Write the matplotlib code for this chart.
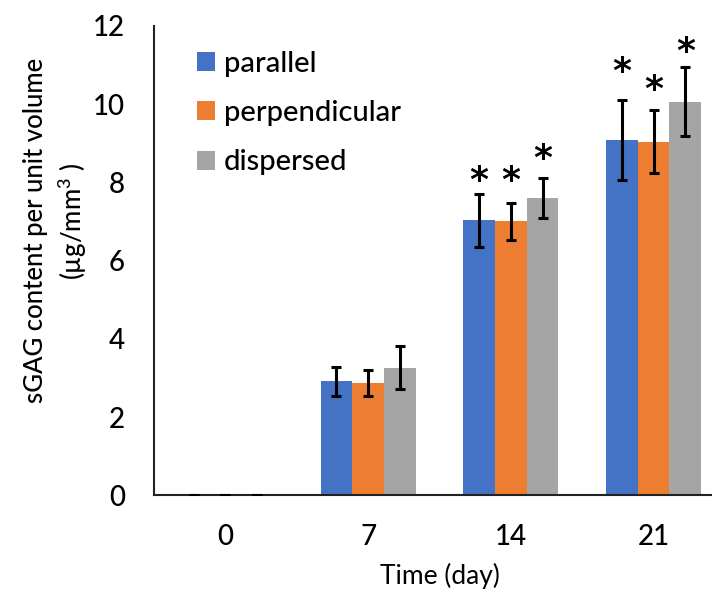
import numpy as np
import matplotlib
matplotlib.use('Agg')
import matplotlib.pyplot as plt

plt.rcParams['font.family'] = ['Lato', 'DejaVu Sans']
plt.rcParams['font.weight'] = 'medium'
plt.rcParams['mathtext.fontset'] = 'custom'
plt.rcParams['mathtext.rm'] = 'Lato:medium'

days = ['0', '7', '14', '21']
groups = ['parallel', 'perpendicular', 'dispersed']
colors = ['#4472C4', '#ED7D31', '#A5A5A5']

parallel = [0.0, 2.92, 7.03, 9.09]
perpendicular = [0.0, 2.88, 7.01, 9.04]
dispersed = [0.0, 3.26, 7.61, 10.06]

parallel_err = [0.02, 0.37, 0.68, 1.03]
perpendicular_err = [0.02, 0.33, 0.47, 0.81]
dispersed_err = [0.02, 0.55, 0.51, 0.88]

# heights of the significance stars (None = no star)
parallel_star = [None, None, 8.04, 10.82]
perpendicular_star = [None, None, 8.04, 10.37]
dispersed_star = [None, None, 8.60, 11.33]

means = [parallel, perpendicular, dispersed]
errs = [parallel_err, perpendicular_err, dispersed_err]
stars = [parallel_star, perpendicular_star, dispersed_star]

fig = plt.figure(figsize=(7.12, 5.95), dpi=100)
ax = fig.add_axes([154/712., 99.7/595., 571/712., 469.3/595.])

x = np.arange(len(days))
w = 0.222
for i, (m, e, s) in enumerate(zip(means, errs, stars)):
    pos = x + (i - 1) * w
    ax.bar(pos, m, width=w, color=colors[i], label=groups[i], edgecolor='none', zorder=2)
    ax.errorbar(pos, m, yerr=e, fmt='none', ecolor='black', elinewidth=2.2,
                capsize=3.5, capthick=2.2, zorder=3)
    for px, sy in zip(pos, s):
        if sy is not None:
            ax.text(px, sy, '*', ha='center', va='center', fontsize=26,
                    fontweight='bold', family='DejaVu Sans')

ax.set_xlim(-0.5, 3.5)
ax.set_ylim(0, 12)
ax.set_xticks(x)
ax.set_xticklabels(days)
ax.set_yticks(np.arange(0, 13, 2))
ax.tick_params(axis='both', length=0, labelsize=20)
ax.tick_params(axis='y', pad=21)
ax.tick_params(axis='x', pad=21)
for sp in ['top', 'right']:
    ax.spines[sp].set_visible(False)
for sp in ['left', 'bottom']:
    ax.spines[sp].set_linewidth(1.5)
    ax.spines[sp].set_color('#222222')

ax.set_xlabel('Time (day)', fontsize=19, labelpad=9)
fig.text(36/712., 1 - 230/595., 'sGAG content per unit volume', rotation=90,
         ha='center', va='center', fontsize=18.5)
fig.text(73/712., 1 - 221/595., r'(µg/mm$^3$ )', rotation=90,
         ha='center', va='center', fontsize=18.5)

ax.legend(loc='upper left', bbox_to_anchor=(0.055, 0.972), frameon=False,
          fontsize=21, handlelength=0.62, handleheight=0.62, handletextpad=0.3,
          labelspacing=0.8, borderaxespad=0)

fig.savefig('out.png', dpi=100)
